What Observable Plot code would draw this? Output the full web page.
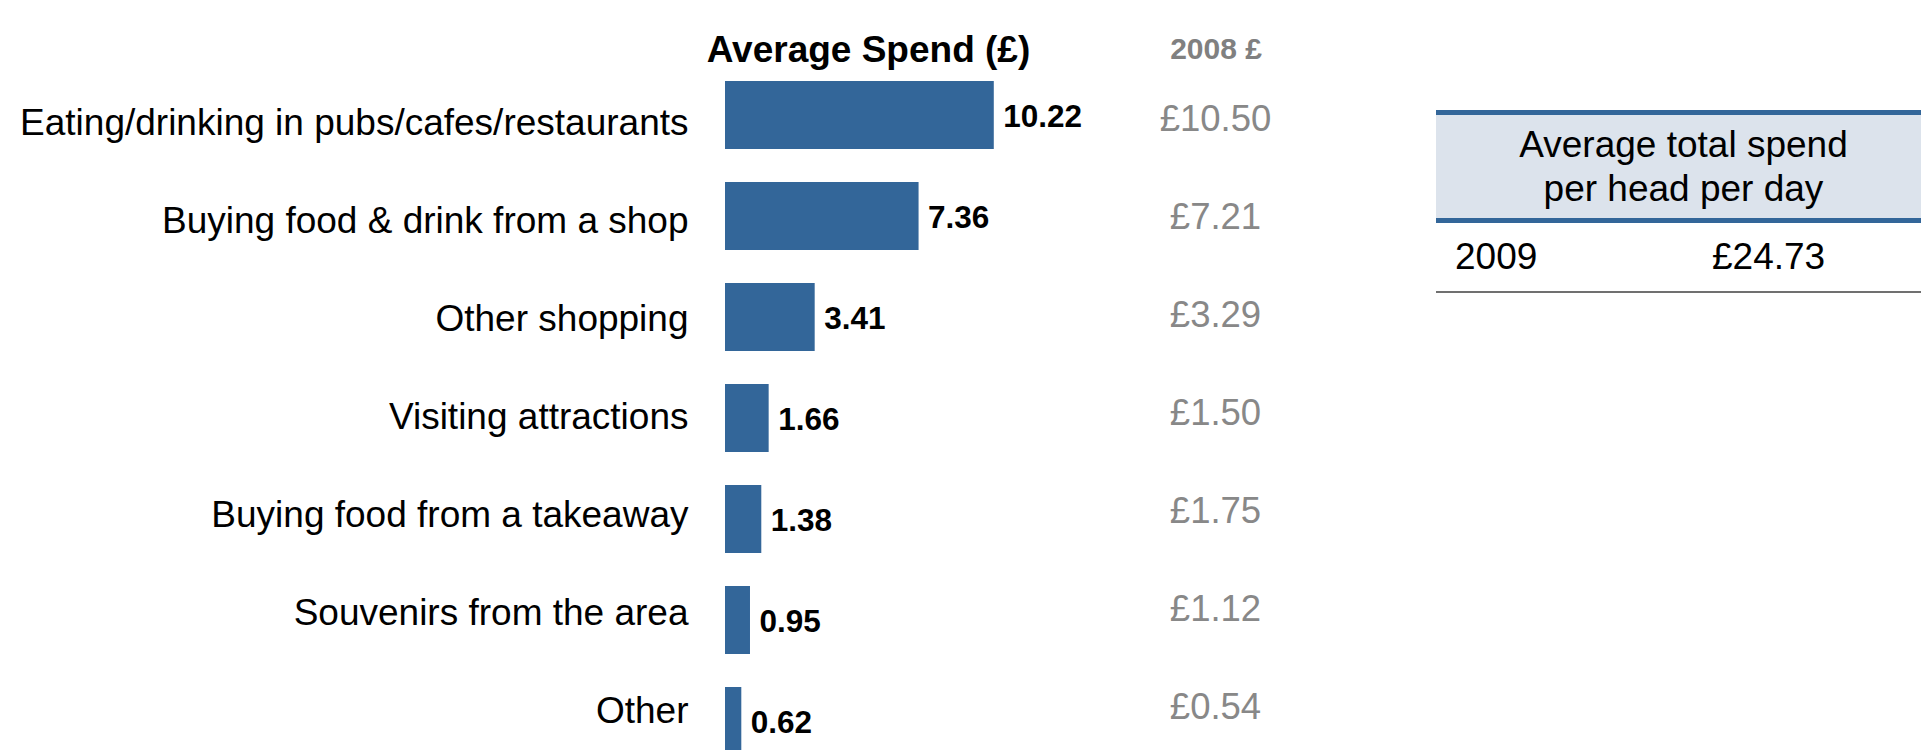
<!DOCTYPE html>
<html>
<head>
<meta charset="utf-8">
<script src="https://cdn.jsdelivr.net/npm/d3@7"></script>
<script src="https://cdn.jsdelivr.net/npm/@observablehq/plot@0.6"></script>
<style>
  html, body { margin: 0; padding: 0; background: #fff; overflow: hidden; }
  #wrap { position: relative; width: 1921px; height: 750px; overflow: hidden; font-family: "Liberation Sans", Arial, sans-serif; }
  #wrap svg { position: absolute; left: 0; top: 0; background: transparent; }
  #tbl { position: absolute; left: 1436px; top: 110px; width: 495px; font-size: 37px; color: #000; }
  #tbl .head { box-sizing: border-box; height: 108px; border-top: 5px solid #336699; background: #dce3ec; text-align: center; line-height: 44px; padding-top: 8px; }
  #tbl .row { box-sizing: border-box; height: 75px; border-top: 5px solid #336699; border-bottom: 2px solid #707070; position: relative; line-height: 68px; }
  #tbl .row span { position: absolute; top: 0; }
</style>
</head>
<body>
<div id="wrap"></div>
<script>
// ---- data ----
const categories = [
  "Eating/drinking in pubs/cafes/restaurants",
  "Buying food & drink from a shop",
  "Other shopping",
  "Visiting attractions",
  "Buying food from a takeaway",
  "Souvenirs from the area",
  "Other"
];
const spend2009 = [10.22, 7.36, 3.41, 1.66, 1.38, 0.95, 0.62];
const spend2008 = [10.50, 7.21, 3.29, 1.50, 1.75, 1.12, 0.54];
const chartTitle = "Average Spend (£)";
const prevHeader = "2008 £";
const totalHeader = ["Average total spend", "per head per day"];
const totalYear = "2009";
const totalSpend = 24.73;

const data = categories.map((c, i) => ({cat: c, value: spend2009[i], prev: spend2008[i]}));

const font = "'Liberation Sans', Arial, sans-serif";
const wrap = document.getElementById("wrap");

// ---- bars + value labels ----
const bars = Plot.plot({
  width: 1921, height: 750,
  marginLeft: 0, marginRight: 0, marginTop: 0, marginBottom: 0,
  style: {fontFamily: font, background: "transparent"},
  x: {domain: [0, 10], range: [725, 988], axis: null},
  y: {type: "band", domain: categories, range: [64.5, 771.5], paddingInner: 0.33, paddingOuter: 0.165, align: 0.5, axis: null},
  marks: [
    Plot.barX(data, {x: "value", y: "cat", fill: "#336699"}),
    Plot.text(data, {x: "value", y: "cat", text: d => d.value.toFixed(2), dx: 9, dy: 1,
      textAnchor: "start", fontWeight: "bold", fontSize: 31.5, fill: "#000"})
  ]
});
wrap.appendChild(bars);

// ---- category labels, 2008 column, headers ----
const labels = Plot.plot({
  width: 1921, height: 750,
  marginLeft: 725, marginRight: 0, marginTop: 0, marginBottom: 0,
  style: {fontFamily: font, fontSize: "37px", background: "transparent"},
  y: {type: "band", domain: categories, range: [65.8, 755.4], padding: 0},
  marks: [
    Plot.axisY({anchor: "left", tickSize: 0, tickPadding: 37, fontSize: 37, dy: 6, fill: "#000", label: null}),
    Plot.text(data, {y: "cat", text: d => "£" + d.prev.toFixed(2), frameAnchor: "left", dx: 490, dy: 1.4,
      textAnchor: "middle", fontSize: 36.5, fill: "#888888"}),
    Plot.text([chartTitle], {frameAnchor: "top-left", dx: 143, dy: 35, textAnchor: "middle",
      fontWeight: "bold", fontSize: 37, fill: "#000"}),
    Plot.text([prevHeader], {frameAnchor: "top-left", dx: 490.5, dy: 37.5, textAnchor: "middle",
      fontWeight: "bold", fontSize: 30, fill: "#808080"})
  ]
});
wrap.appendChild(labels);

// ---- summary table ----
const tbl = document.createElement("div");
tbl.id = "tbl";
const head = document.createElement("div");
head.className = "head";
head.innerHTML = totalHeader.join("<br>");
const row = document.createElement("div");
row.className = "row";
const yr = document.createElement("span");
yr.style.left = "19px";
yr.textContent = totalYear;
const val = document.createElement("span");
val.style.left = "276px";
val.textContent = "£" + totalSpend.toFixed(2);
row.appendChild(yr);
row.appendChild(val);
tbl.appendChild(head);
tbl.appendChild(row);
wrap.appendChild(tbl);
</script>
</body>
</html>
